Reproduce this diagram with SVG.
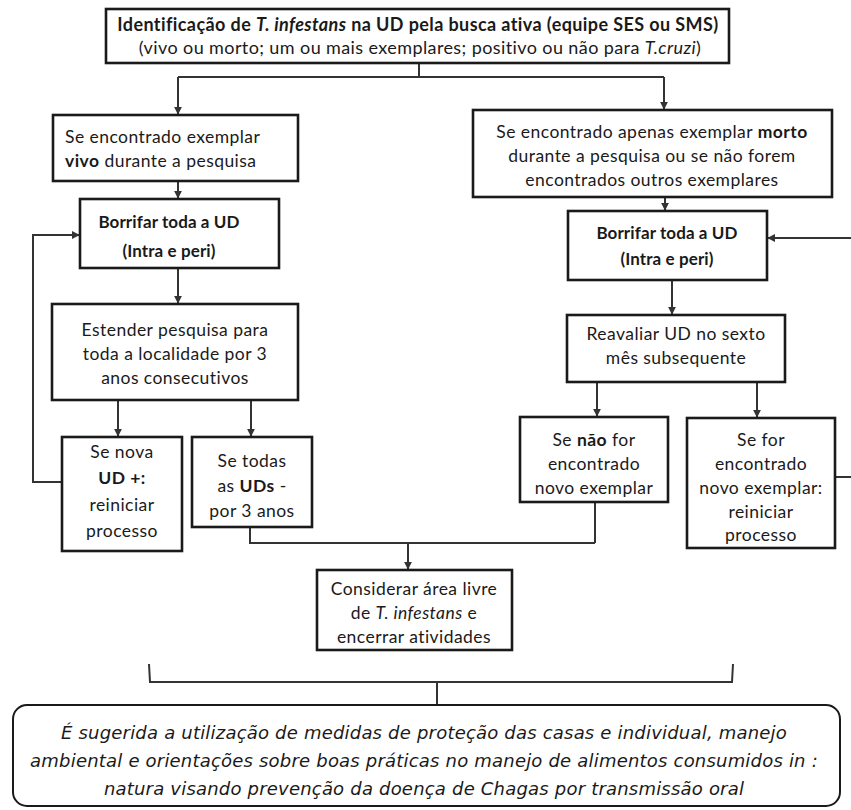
<svg xmlns="http://www.w3.org/2000/svg" width="851" height="810" viewBox="0 0 851 810">
<defs>
<style>
.box{fill:#fff;stroke:#1a1a1a;stroke-width:2.6}
.conn{fill:none;stroke:#333;stroke-width:2}
.t{font-family:Lato,"Open Sans","Liberation Sans",sans-serif;font-size:17.5px;letter-spacing:0.45px;fill:#1a1a1a;text-anchor:middle}
.hd{font-size:18px;letter-spacing:0.4px}
.bb{font-size:17px;letter-spacing:0.1px}
.b{font-weight:bold}
.i{font-style:italic}
.it{font-family:"DejaVu Sans","Liberation Sans",sans-serif;font-size:18px;letter-spacing:0.2px;font-style:italic;fill:#1a1a1a;text-anchor:middle}
</style>
<marker id="ah" viewBox="0 0 10 10" refX="9" refY="5" markerWidth="8" markerHeight="8" markerUnits="userSpaceOnUse" orient="auto">
<path d="M0,0 L10,5 L0,10 z" fill="#333"/>
</marker>
</defs>
<rect width="851" height="810" fill="#fff"/>

<g id="connectors">
<polyline class="conn" points="419,63 419,77"/>
<polyline class="conn" points="178,77 664,77"/>
<polyline class="conn" points="178,77 178,114" marker-end="url(#ah)"/>
<polyline class="conn" points="664,77 664,109" marker-end="url(#ah)"/>
<polyline class="conn" points="178,181 178,198" marker-end="url(#ah)"/>
<polyline class="conn" points="178,268 178,303" marker-end="url(#ah)"/>
<polyline class="conn" points="118,400 118,436" marker-end="url(#ah)"/>
<polyline class="conn" points="251,400 251,436" marker-end="url(#ah)"/>
<polyline class="conn" points="62,482 33,482 33,235 79,235" marker-end="url(#ah)"/>
<polyline class="conn" points="250,527 250,543 595,543"/>
<polyline class="conn" points="595,502 595,543"/>
<polyline class="conn" points="408,543 408,569" marker-end="url(#ah)"/>
<polyline class="conn" points="665,197 665,210" marker-end="url(#ah)"/>
<polyline class="conn" points="851,238 768,238" marker-end="url(#ah)"/>
<polyline class="conn" points="672,280 672,314" marker-end="url(#ah)"/>
<polyline class="conn" points="597,382 597,416" marker-end="url(#ah)"/>
<polyline class="conn" points="757,382 757,417" marker-end="url(#ah)"/>
<polyline class="conn" points="835,477 851,477"/>
<path class="conn" d="M149,664 L150,682 L732,682 L733,664"/>
<polyline class="conn" points="437,682 437,705"/>
</g>

<g id="n-top">
<rect class="box" x="106" y="9" width="623" height="54"/>
<text class="t hd b" x="418" y="31">Identificação de <tspan class="i">T. infestans</tspan> na UD pela busca ativa (equipe SES ou SMS)</text>
<text class="t hd" x="420" y="54">(vivo ou morto; um ou mais exemplares; positivo ou não para <tspan class="i">T.cruzi</tspan>)</text>
</g>

<g id="n-vivo">
<rect class="box" x="53" y="115" width="245" height="66"/>
<text class="t" x="65" y="143" style="text-anchor:start">Se encontrado exemplar</text>
<text class="t" x="65" y="167" style="text-anchor:start"><tspan class="b">vivo</tspan> durante a pesquisa</text>
</g>

<g id="n-borrifar-l">
<rect class="box" x="80" y="199" width="199" height="69"/>
<text class="t bb b" x="169" y="228">Borrifar toda a UD</text>
<text class="t bb b" x="169" y="257">(Intra e peri)</text>
</g>

<g id="n-estender">
<rect class="box" x="52" y="304" width="246" height="96"/>
<text class="t" x="175" y="336">Estender pesquisa para</text>
<text class="t" x="175" y="360">toda a localidade por 3</text>
<text class="t" x="175" y="384">anos consecutivos</text>
</g>

<g id="n-nova">
<rect class="box" x="62" y="437" width="120" height="114"/>
<text class="t" x="122" y="458">Se nova</text>
<text class="t b" x="122" y="484">UD +:</text>
<text class="t" x="122" y="511">reiniciar</text>
<text class="t" x="122" y="537">processo</text>
</g>

<g id="n-todas">
<rect class="box" x="192" y="437" width="120" height="90"/>
<text class="t" x="252" y="467">Se todas</text>
<text class="t" x="252" y="492">as <tspan class="b">UDs</tspan>  -</text>
<text class="t" x="252" y="517">por 3 anos</text>
</g>

<g id="n-considerar">
<rect class="box" x="317" y="570" width="195" height="80"/>
<text class="t" x="414" y="595">Considerar área livre</text>
<text class="t" x="414" y="619">de <tspan class="i">T. infestans</tspan>  e</text>
<text class="t" x="414" y="643">encerrar atividades</text>
</g>

<g id="n-morto">
<rect class="box" x="473" y="110" width="359" height="87"/>
<text class="t" x="652" y="138">Se encontrado apenas exemplar <tspan class="b">morto</tspan></text>
<text class="t" x="652" y="162">durante a pesquisa ou se não forem</text>
<text class="t" x="652" y="186">encontrados outros exemplares</text>
</g>

<g id="n-borrifar-r">
<rect class="box" x="568" y="211" width="199" height="69"/>
<text class="t bb b" x="667" y="239">Borrifar toda a UD</text>
<text class="t bb b" x="667" y="265">(Intra e peri)</text>
</g>

<g id="n-reavaliar">
<rect class="box" x="567" y="315" width="218" height="67"/>
<text class="t" x="676" y="340">Reavaliar UD no sexto</text>
<text class="t" x="676" y="364">mês subsequente</text>
</g>

<g id="n-nao">
<rect class="box" x="520" y="417" width="148" height="85"/>
<text class="t" x="594" y="446">Se <tspan class="b">não</tspan> for</text>
<text class="t" x="594" y="470">encontrado</text>
<text class="t" x="594" y="494">novo exemplar</text>
</g>

<g id="n-sefor">
<rect class="box" x="687" y="418" width="148" height="130"/>
<text class="t" x="761" y="446">Se for</text>
<text class="t" x="761" y="470">encontrado</text>
<text class="t" x="761" y="494">novo exemplar:</text>
<text class="t" x="761" y="518">reiniciar</text>
<text class="t" x="761" y="541">processo</text>
</g>

<g id="n-sugestao">
<rect class="box" x="13" y="705" width="827" height="101" rx="14" ry="14" style="stroke-width:2"/>
<text class="it" x="424" y="739">É sugerida a utilização de medidas de proteção das casas e individual, manejo</text>
<text class="it" x="424" y="767">ambiental e orientações sobre boas práticas no manejo de alimentos consumidos in :</text>
<text class="it" x="424" y="795">natura visando prevenção da doença de Chagas por transmissão oral</text>
</g>
</svg>
